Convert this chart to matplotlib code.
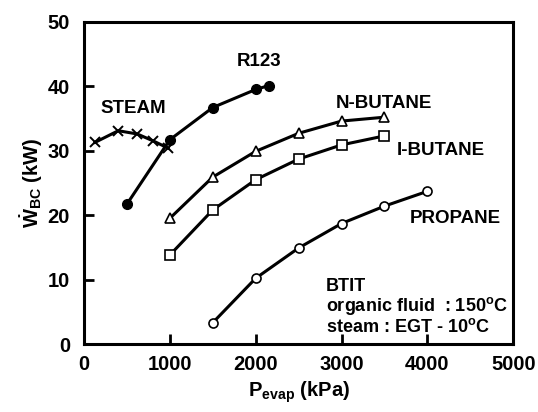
import matplotlib
matplotlib.use("Agg")
import matplotlib.pyplot as plt

plt.rcParams['font.family'] = ['Liberation Sans', 'DejaVu Sans']
plt.rcParams['font.weight'] = 'bold'
plt.rcParams['mathtext.fontset'] = 'custom'
plt.rcParams['mathtext.rm'] = 'Liberation Sans:bold'
plt.rcParams['mathtext.bf'] = 'Liberation Sans:bold'
plt.rcParams['mathtext.it'] = 'Liberation Sans:bold'

steam_p = [130, 400, 620, 810, 980]
steam_w = [31.3, 33.1, 32.6, 31.5, 30.4]

r123_p = [500, 1000, 1500, 2000, 2150]
r123_w = [21.7, 31.7, 36.7, 39.5, 40.1]

nbutane_p = [1000, 1500, 2000, 2500, 3000, 3500]
nbutane_w = [19.5, 25.9, 29.9, 32.7, 34.6, 35.2]

ibutane_p = [1000, 1500, 2000, 2500, 3000, 3500]
ibutane_w = [13.8, 20.8, 25.5, 28.7, 30.9, 32.3]

propane_p = [1500, 2000, 2500, 3000, 3500, 4000]
propane_w = [3.3, 10.2, 14.9, 18.7, 21.4, 23.7]

fig = plt.figure(figsize=(5.38, 4.12), dpi=100)
ax = fig.add_axes([0.156, 0.165, 0.798, 0.782])

lw = 2.2
ax.plot(steam_p, steam_w, color='black', lw=lw, marker='x', ms=7.5, mew=1.4)
ax.plot(r123_p, r123_w, color='black', lw=lw, marker='o', ms=7, mfc='black')
ax.plot(nbutane_p, nbutane_w, color='black', lw=lw, marker='^', ms=7, mfc='white', mew=1.2)
ax.plot(ibutane_p, ibutane_w, color='black', lw=lw, marker='s', ms=6.5, mfc='white', mew=1.2)
ax.plot(propane_p, propane_w, color='black', lw=lw, marker='o', ms=6.5, mfc='white', mew=1.2)

ax.set_xlim(0, 5000)
ax.set_ylim(0, 50)
ax.set_xticks([0, 1000, 2000, 3000, 4000, 5000])
ax.set_yticks([0, 10, 20, 30, 40, 50])
ax.tick_params(direction='in', length=7, width=2, labelsize=14.5, pad=8,
               top=False, right=False)
ax.tick_params(axis='y', pad=10)
for lab in ax.get_xticklabels() + ax.get_yticklabels():
    lab.set_fontweight('bold')
for s in ax.spines.values():
    s.set_linewidth(2.2)

ax.set_xlabel(r'P$_{\rm evap}$ (kPa)', fontsize=14.5, fontweight='bold', labelpad=4)
ax.set_ylabel(r'$\dot{W}_{\rm BC}$ (kW)', fontsize=14.5, fontweight='bold', labelpad=2)

tk = dict(fontsize=13.5, fontweight='bold', color='black')
ax.text(190, 35.8, 'STEAM', **tk)
ax.text(1780, 43.2, 'R123', **tk)
ax.text(2930, 36.7, 'N-BUTANE', **tk)
ax.text(3640, 29.3, 'I-BUTANE', **tk)
ax.text(3790, 18.8, 'PROPANE', **tk)
ax.text(2820, 8.2, 'BTIT', fontsize=13, fontweight='bold')
ax.text(2820, 5.2, r'organic fluid  : 150$^{\rm o}$C', fontsize=13, fontweight='bold')
ax.text(2820, 1.9, r'steam : EGT - 10$^{\rm o}$C', fontsize=13, fontweight='bold')

fig.savefig('out.png', dpi=100)
